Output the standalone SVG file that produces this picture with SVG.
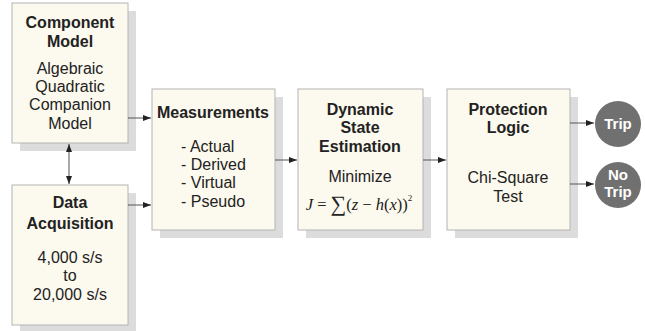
<svg xmlns="http://www.w3.org/2000/svg" width="645" height="331" viewBox="0 0 645 331">
<defs>
<style>
.shadow{fill:#dcdcdc}
.box{fill:#fcf9ee;stroke:#b4b4b4;stroke-width:1}
.b{font-family:"Liberation Sans",Arial,sans-serif;font-weight:bold;font-size:16px;fill:#222;text-anchor:middle}
.r{font-family:"Liberation Sans",Arial,sans-serif;font-size:16px;fill:#222;text-anchor:middle}
.l{font-family:"Liberation Sans",Arial,sans-serif;font-size:16px;fill:#222}
.m{font-family:"Liberation Serif","Times New Roman",serif;font-size:16.5px;fill:#222}
.c{fill:#707070}
.ct{font-family:"Liberation Sans",Arial,sans-serif;font-weight:bold;font-size:15px;fill:#fff;text-anchor:middle}
.ln{stroke:#555;stroke-width:1;fill:none}
</style>
<marker id="ah" viewBox="0 0 8 6" refX="8" refY="3" markerWidth="8" markerHeight="6" orient="auto-start-reverse" markerUnits="userSpaceOnUse">
<path d="M0,0 L8,3 L0,6 z" fill="#222"/>
</marker>
</defs>
<rect width="645" height="331" fill="#fff"/>
<g id="component-model">
<rect class="shadow" x="20" y="11" width="116" height="140"/>
<rect class="box" x="12" y="3" width="116" height="140"/>
<text class="b" x="70" y="28">Component</text>
<text class="b" x="70" y="47">Model</text>
<text class="r" x="70" y="74">Algebraic</text>
<text class="r" x="70" y="92">Quadratic</text>
<text class="r" x="70" y="110">Companion</text>
<text class="r" x="70" y="129">Model</text>
</g>
<g id="data-acquisition">
<rect class="shadow" x="20" y="193" width="116" height="138"/>
<rect class="box" x="12" y="185" width="116" height="140"/>
<text class="b" x="70" y="208">Data</text>
<text class="b" x="70" y="229">Acquisition</text>
<text class="r" x="70" y="263">4,000 s/s</text>
<text class="r" x="70" y="281">to</text>
<text class="r" x="70" y="300">20,000 s/s</text>
</g>
<g id="measurements">
<rect class="shadow" x="160" y="97" width="123" height="141"/>
<rect class="box" x="152" y="89" width="123" height="141"/>
<text class="b" x="213" y="118">Measurements</text>
<text class="l" x="181" y="152">- Actual</text>
<text class="l" x="181" y="170">- Derived</text>
<text class="l" x="181" y="188">- Virtual</text>
<text class="l" x="181" y="207">- Pseudo</text>
</g>
<g id="dynamic-state-estimation">
<rect class="shadow" x="306" y="97" width="125" height="141"/>
<rect class="box" x="298" y="89" width="125" height="141"/>
<text class="b" x="360" y="115">Dynamic</text>
<text class="b" x="360" y="133">State</text>
<text class="b" x="360" y="152">Estimation</text>
<text class="r" x="360" y="182">Minimize</text>
<text class="m" x="359" y="210" text-anchor="middle"><tspan font-style="italic">J</tspan> = <tspan font-size="22" dy="1">∑</tspan><tspan dy="-1">(</tspan><tspan font-style="italic">z</tspan> − <tspan font-style="italic">h</tspan>(<tspan font-style="italic">x</tspan>))<tspan font-size="9" dy="-9">2</tspan></text>
</g>
<g id="protection-logic">
<rect class="shadow" x="455" y="97" width="123" height="141"/>
<rect class="box" x="447" y="89" width="123" height="141"/>
<text class="b" x="508" y="115">Protection</text>
<text class="b" x="508" y="133">Logic</text>
<text class="r" x="508" y="183">Chi-Square</text>
<text class="r" x="508" y="202">Test</text>
</g>
<g id="trip">
<circle class="c" cx="618" cy="124" r="23"/>
<text class="ct" x="618" y="129">Trip</text>
</g>
<g id="no-trip">
<circle class="c" cx="618" cy="185" r="23"/>
<text class="ct" x="618" y="180">No</text>
<text class="ct" x="618" y="197">Trip</text>
</g>
<g id="connectors">
<line class="ln" x1="69" y1="144" x2="69" y2="184" marker-start="url(#ah)" marker-end="url(#ah)"/>
<line class="ln" x1="128" y1="118" x2="151" y2="118" marker-end="url(#ah)"/>
<line class="ln" x1="128" y1="205" x2="151" y2="205" marker-end="url(#ah)"/>
<line class="ln" x1="275" y1="160" x2="297" y2="160" marker-end="url(#ah)"/>
<line class="ln" x1="423" y1="160" x2="446" y2="160" marker-end="url(#ah)"/>
<line class="ln" x1="570" y1="123" x2="594" y2="123" marker-end="url(#ah)"/>
<line class="ln" x1="570" y1="184" x2="594" y2="184" marker-end="url(#ah)"/>
</g>
</svg>
